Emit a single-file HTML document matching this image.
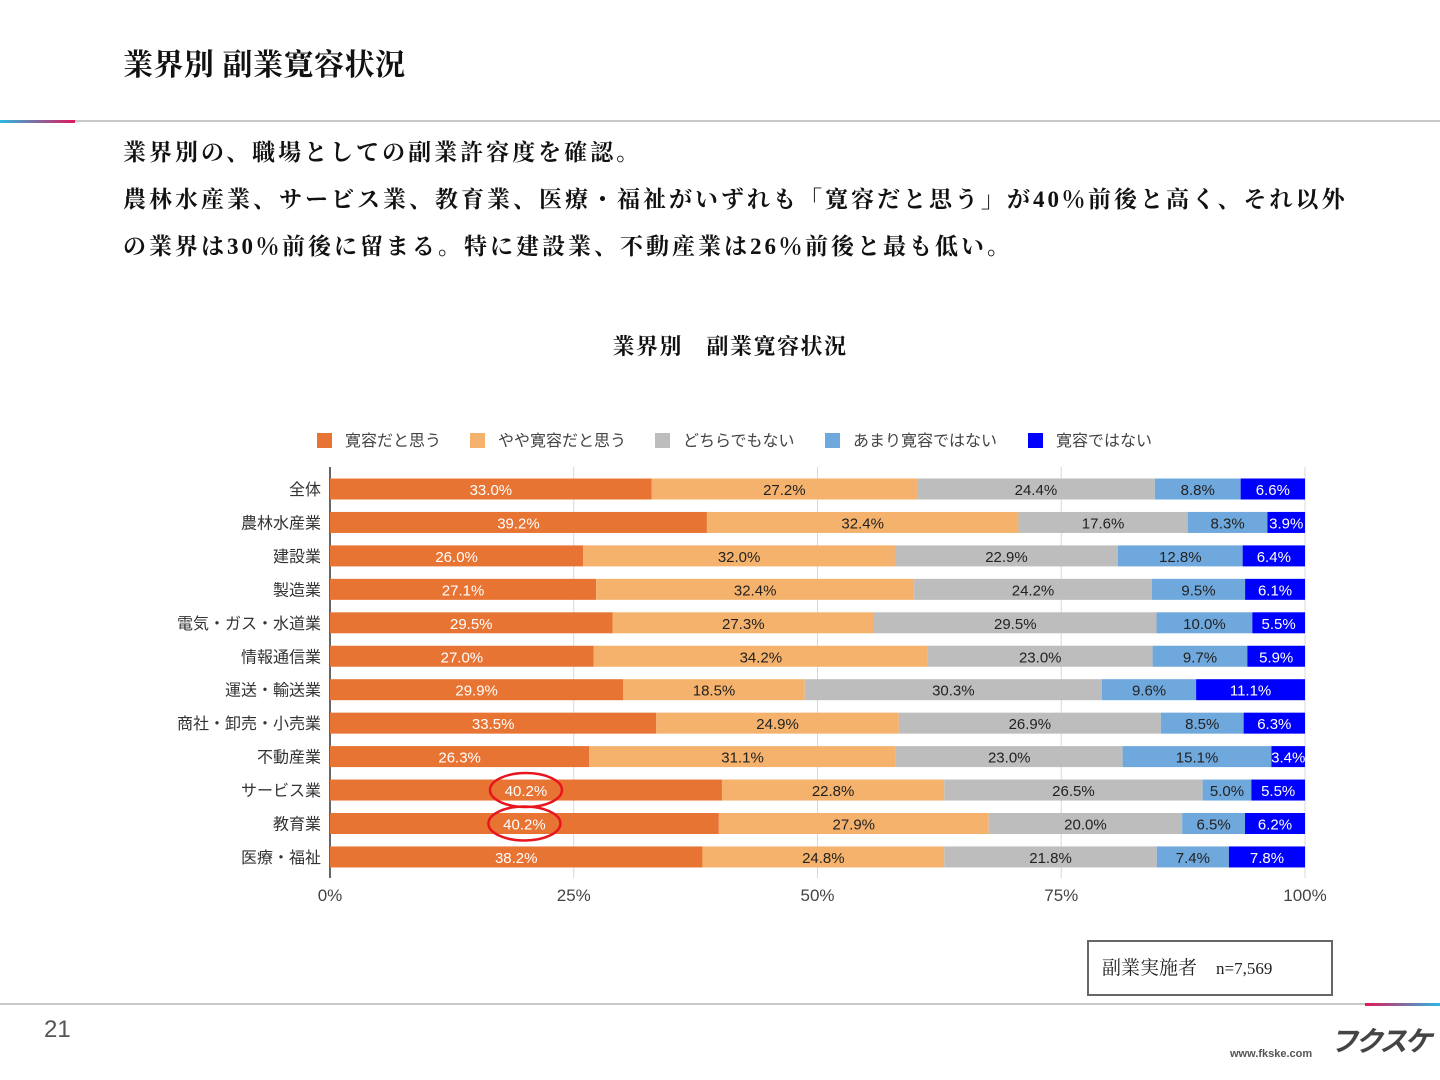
<!DOCTYPE html>
<html><head><meta charset="utf-8"><style>
body{margin:0;width:1440px;height:1080px;background:#fff;position:relative;overflow:hidden;font-family:"Liberation Serif","Noto Serif CJK SC",serif;}
.abs{position:absolute;}
</style></head><body>
<div class="abs" style="left:123px;top:40px;font-size:30px;font-weight:bold;color:#111;letter-spacing:0.5px;">業界別 副業寛容状況</div>
<div class="abs" style="left:0;top:120px;width:1440px;height:2px;background:#c8c8c8;"></div>
<div class="abs" style="left:0;top:120px;width:75px;height:3px;background:linear-gradient(90deg,#2ab8e0,#e0195a);"></div>
<div class="abs" style="left:123px;top:129px;font-size:23px;line-height:47px;font-weight:bold;color:#111;width:1300px;letter-spacing:3px;white-space:nowrap;">業界別の、職場としての副業許容度を確認。<br>農林水産業、サービス業、教育業、医療・福祉がいずれも「寛容だと思う」が40％前後と高く、それ以外<br>の業界は30％前後に留まる。特に建設業、不動産業は26％前後と最も低い。</div>
<svg class="abs" style="left:0;top:0" width="1440" height="1080" id="chart"></svg>
<div class="abs" style="left:1087px;top:940px;width:246px;height:56px;border:2px solid #666;box-sizing:border-box;font-size:19px;line-height:54px;padding-left:13px;color:#222;">副業実施者　<span style="font-size:17px">n=7,569</span></div>
<div class="abs" style="left:0;top:1003px;width:1440px;height:2px;background:#c8c8c8;"></div>
<div class="abs" style="left:1365px;top:1003px;width:75px;height:3px;background:linear-gradient(90deg,#e0195a,#2ab8e0);"></div>
<div class="abs" style="left:44px;top:1016px;font-size:24px;color:#555;font-family:'Liberation Sans',sans-serif;">21</div>
<div class="abs" style="left:1230px;top:1048px;font-size:11px;font-weight:bold;color:#555;font-family:'Liberation Sans',sans-serif;">www.fkske.com</div>
<div class="abs" style="left:1330px;top:1020px;font-size:28px;font-style:italic;font-weight:bold;color:#444;font-family:'Noto Sans CJK JP',sans-serif;letter-spacing:-3px;">フクスケ</div>
<script>
const categories=["全体","農林水産業","建設業","製造業","電気・ガス・水道業","情報通信業","運送・輸送業","商社・卸売・小売業","不動産業","サービス業","教育業","医療・福祉"];
const seriesNames=["寛容だと思う","やや寛容だと思う","どちらでもない","あまり寛容ではない","寛容ではない"];
const s1=[33.0,39.2,26.0,27.1,29.5,27.0,29.9,33.5,26.3,40.2,40.2,38.2];
const s2=[27.2,32.4,32.0,32.4,27.3,34.2,18.5,24.9,31.1,22.8,27.9,24.8];
const s3=[24.4,17.6,22.9,24.2,29.5,23.0,30.3,26.9,23.0,26.5,20.0,21.8];
const s4=[8.8,8.3,12.8,9.5,10.0,9.7,9.6,8.5,15.1,5.0,6.5,7.4];
const s5=[6.6,3.9,6.4,6.1,5.5,5.9,11.1,6.3,3.4,5.5,6.2,7.8];
const ticks=[0,25,50,75,100];
const tickLabels=["0%","25%","50%","75%","100%"];
const series=[s1,s2,s3,s4,s5];
const colors=["#e87434","#f5b26c","#bdbdbd","#6fa8dc","#0000ff"];
const textColors=["#fff","#222","#222","#222","#fff"];
const svg=document.getElementById('chart');
const NS="http://www.w3.org/2000/svg";
const x0=330,x1=1305,yTop=467,yBot=878,rowStep=33.45,rowStart=489,barH=21;
const xs=v=>x0+(x1-x0)*v/100;
const ys=i=>rowStart+i*rowStep;
const font="'Liberation Sans','Noto Sans CJK JP',sans-serif";
function mk(t,a){const e=document.createElementNS(NS,t);for(const k in a)e.setAttribute(k,a[k]);svg.appendChild(e);return e;}
let t=mk('text',{x:730,y:354,'text-anchor':'middle','font-size':22,'font-weight':'bold',fill:'#111','letter-spacing':1.5,'font-family':"'Liberation Serif','Noto Serif CJK SC',serif"});t.textContent="業界別　副業寛容状況";


ticks.forEach((v,i)=>{
 const l=mk('line',{x1:xs(v),x2:xs(v),y1:yTop,y2:yBot,stroke:'#d8d8d8','stroke-width':1});
 
 
 const tx=mk('text',{x:xs(v),y:901,'text-anchor':'middle','font-size':17,fill:'#444','font-family':font});tx.textContent=tickLabels[i];
 
 
});
const ax=mk('line',{x1:x0,x2:x0,y1:yTop,y2:yBot,stroke:'#333','stroke-width':1.5});


const legX=[317,470,655,825,1028];
seriesNames.forEach((n,i)=>{
 const r=mk('rect',{x:legX[i],y:433,width:15,height:15,fill:colors[i]});
 
 
 const tx=mk('text',{x:legX[i]+28,y:446,'font-size':16,fill:'#444','font-family':font});tx.textContent=n;
 
 
});
categories.forEach((c,i)=>{
 const y=ys(i);
 const lb=mk('text',{x:321,y:y+6,'text-anchor':'end','font-size':16,fill:'#333','font-family':font});lb.textContent=c;
 
 
 const total=series.reduce((a,s)=>a+s[i],0);
 let acc=0;
 series.forEach((s,k)=>{
  const v=s[i]*100/total;
  const r=mk('rect',{x:xs(acc),y:y-barH/2,width:xs(acc+v)-xs(acc),height:barH,fill:colors[k]});
  
  
  const tx=mk('text',{x:(xs(acc)+xs(acc+v))/2,y:y+6,'text-anchor':'middle','font-size':15,fill:textColors[k],'font-family':font});tx.textContent=s[i].toFixed(1)+"%";
  
  
  acc+=v;
 });
});
[9,10].forEach(i=>{
 const total=series.reduce((a,s)=>a+s[i],0);
 const e=mk('ellipse',{cx:xs(s1[i]*50/total),cy:ys(i),rx:36,ry:17,fill:'none',stroke:'#e8141e','stroke-width':2.5});
 
 
});
</script>
</body></html>
